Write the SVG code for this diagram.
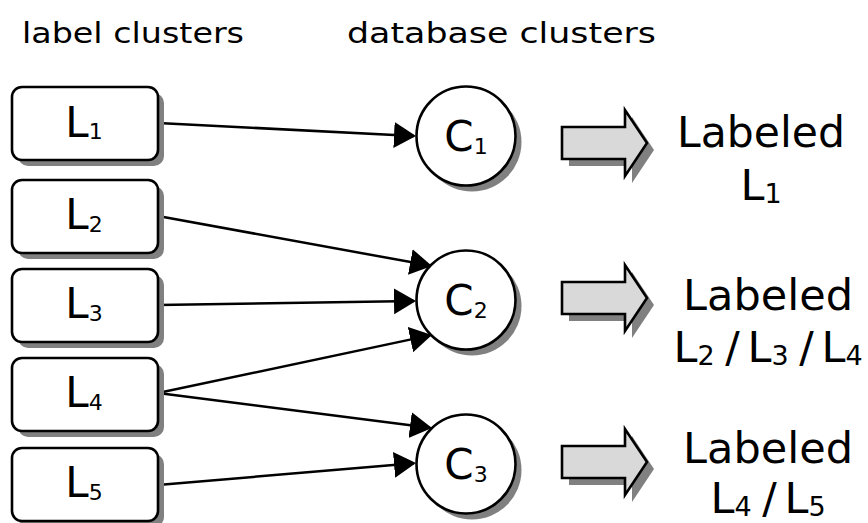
<svg xmlns="http://www.w3.org/2000/svg" width="868" height="523" viewBox="0 0 868 523">
<style>
  text { font-family: "DejaVu Sans", "Liberation Sans", sans-serif; fill: #000; }
  .hdr { font-size: 29px; }
  .lbl { font-size: 42px; text-anchor: middle; }
  .sub { font-size: 22px; }
  .rt { font-size: 43px; text-anchor: middle; }
  .rsub { font-size: 27px; }
  .sep { letter-spacing: -3px; }
  .box { fill: #fff; stroke: #000; stroke-width: 2.6; }
  .shadow { fill: #808080; stroke: none; }
  .circ { fill: #fff; stroke: #000; stroke-width: 2.6; }
  .blk { fill: #d9d9d9; stroke: #000; stroke-width: 2.6; stroke-linejoin: miter; }
  .conn { stroke: #000; stroke-width: 2.5; fill: none; marker-end: url(#ah); }
</style>
<defs>
  <marker id="ah" markerUnits="userSpaceOnUse" markerWidth="24" markerHeight="28" refX="20" refY="13" orient="auto">
    <path d="M0,0 L22,13 L0,26 Z" fill="#000"/>
  </marker>
  <path id="blockArrow" d="M0,-16 L63,-16 L63,-33 L85,0 L63,33 L63,16 L0,16 Z"/>
</defs>
<rect width="868" height="523" fill="#fff"/>

<g id="headers">
  <text class="hdr" x="22" y="43" textLength="222" lengthAdjust="spacingAndGlyphs">label clusters</text>
  <text class="hdr" x="347" y="43" textLength="309" lengthAdjust="spacingAndGlyphs">database clusters</text>
</g>

<g id="connectors">
  <line class="conn" x1="158" y1="123" x2="414" y2="136"/>
  <line class="conn" x1="158" y1="216" x2="430" y2="265.6"/>
  <line class="conn" x1="158" y1="305" x2="414" y2="301"/>
  <line class="conn" x1="158" y1="393" x2="430" y2="335.4"/>
  <line class="conn" x1="158" y1="393" x2="430" y2="427.7"/>
  <line class="conn" x1="158" y1="485" x2="414" y2="463.2"/>
</g>

<g id="L1">
  <rect class="shadow" x="18" y="93" width="146" height="73" rx="10"/>
  <rect class="box" x="12" y="87" width="146" height="73" rx="10"/>
  <text class="lbl" x="84" y="137">L<tspan class="sub" dy="2">1</tspan></text>
</g>
<g id="L2">
  <rect class="shadow" x="18" y="186" width="146" height="73" rx="10"/>
  <rect class="box" x="12" y="180" width="146" height="73" rx="10"/>
  <text class="lbl" x="84" y="229">L<tspan class="sub" dy="3">2</tspan></text>
</g>
<g id="L3">
  <rect class="shadow" x="18" y="275" width="146" height="73" rx="10"/>
  <rect class="box" x="12" y="269" width="146" height="73" rx="10"/>
  <text class="lbl" x="84" y="318">L<tspan class="sub" dy="3">3</tspan></text>
</g>
<g id="L4">
  <rect class="shadow" x="18" y="364" width="146" height="73" rx="10"/>
  <rect class="box" x="12" y="358" width="146" height="73" rx="10"/>
  <text class="lbl" x="84" y="407">L<tspan class="sub" dy="3">4</tspan></text>
</g>
<g id="L5">
  <rect class="shadow" x="18" y="454" width="146" height="73" rx="10"/>
  <rect class="box" x="12" y="448" width="146" height="73" rx="10"/>
  <text class="lbl" x="84" y="497">L<tspan class="sub" dy="3">5</tspan></text>
</g>

<g id="C1">
  <circle class="shadow" cx="472" cy="142" r="49.5"/>
  <circle class="circ" cx="466" cy="136" r="49.5"/>
  <text class="lbl" x="466" y="151">C<tspan class="sub" dy="3">1</tspan></text>
</g>
<g id="C2">
  <circle class="shadow" cx="472" cy="306" r="49.5"/>
  <circle class="circ" cx="466" cy="300" r="49.5"/>
  <text class="lbl" x="466" y="315">C<tspan class="sub" dy="3">2</tspan></text>
</g>
<g id="C3">
  <circle class="shadow" cx="472" cy="470" r="49.5"/>
  <circle class="circ" cx="466" cy="464" r="49.5"/>
  <text class="lbl" x="466" y="479">C<tspan class="sub" dy="3">3</tspan></text>
</g>

<g id="A1">
  <use href="#blockArrow" x="569" y="150" class="shadow"/>
  <use href="#blockArrow" x="562" y="143" class="blk"/>
</g>
<g id="A2">
  <use href="#blockArrow" x="569" y="305" class="shadow"/>
  <use href="#blockArrow" x="562" y="298" class="blk"/>
</g>
<g id="A3">
  <use href="#blockArrow" x="569" y="469" class="shadow"/>
  <use href="#blockArrow" x="562" y="462" class="blk"/>
</g>

<g id="R1">
  <text class="rt" x="761" y="147" textLength="168" lengthAdjust="spacingAndGlyphs">Labeled</text>
  <text class="rt" x="761" y="200">L<tspan class="rsub" dy="3">1</tspan></text>
</g>
<g id="R2">
  <text class="rt" x="768" y="310" textLength="170" lengthAdjust="spacingAndGlyphs">Labeled</text>
  <text class="rt" x="768" y="362">L<tspan class="rsub" dy="3">2</tspan><tspan class="sep" dy="-3"> / </tspan>L<tspan class="rsub" dy="3">3</tspan><tspan class="sep" dy="-3"> / </tspan>L<tspan class="rsub" dy="3">4</tspan></text>
</g>
<g id="R3">
  <text class="rt" x="768" y="463" textLength="170" lengthAdjust="spacingAndGlyphs">Labeled</text>
  <text class="rt" x="768" y="513">L<tspan class="rsub" dy="3">4</tspan><tspan class="sep" dy="-3"> / </tspan>L<tspan class="rsub" dy="3">5</tspan></text>
</g>
</svg>
